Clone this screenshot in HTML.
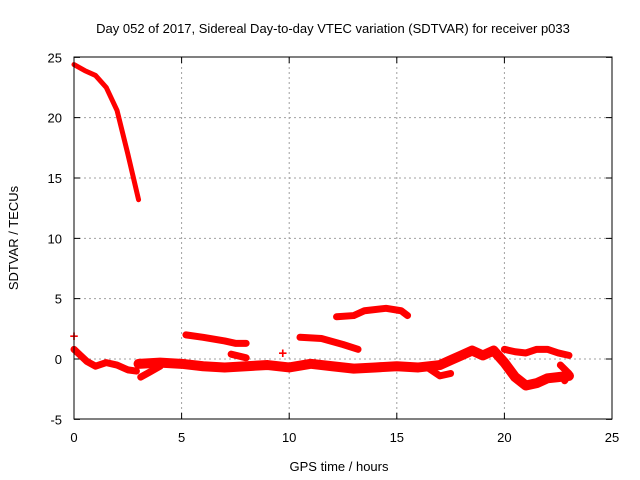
<!DOCTYPE html>
<html><head><meta charset="utf-8"><style>
body{margin:0;background:#fff}
svg{display:block;font-family:"Liberation Sans",sans-serif;font-size:13px}
</style></head><body>
<svg id="chart" width="640" height="480">
<text x="333" y="33" text-anchor="middle">Day 052 of 2017, Sidereal Day-to-day VTEC variation (SDTVAR) for receiver p033</text>
<g id="grid"></g><g id="ticks"></g><g id="series"></g>
<rect x="74" y="57" width="538" height="362" fill="none" stroke="#000"/>
<text x="339" y="471" text-anchor="middle">GPS time / hours</text>
<text transform="translate(18,238) rotate(-90)" text-anchor="middle">SDTVAR / TECUs</text>
</svg>
<script>
const xTicks=[0,5,10,15,20,25];
const yTicks=[-5,0,5,10,15,20,25];
const segTop=[[0,24.4],[0.5,23.9],[1,23.5],[1.5,22.5],[2,20.6],[2.5,17],[3,13.2]];
const segMain=[[0,0.8],[0.3,0.3],[0.6,-0.2],[1,-0.6],[1.5,-0.3],[2,-0.5],[2.5,-0.9],[2.9,-1]];
const segMain2=[[3,-0.4],[4,-0.3],[5,-0.4],[6,-0.6],[7,-0.7],[8,-0.6],[9,-0.5],[10,-0.7],[11,-0.4],[12,-0.6],[13,-0.8],[14,-0.7],[15,-0.6],[16,-0.7],[17,-0.5],[17.5,-0.1],[18,0.3],[18.5,0.7],[19,0.3],[19.5,0.7],[20,-0.3],[20.5,-1.5],[21,-2.2],[21.5,-2],[22,-1.6],[22.5,-1.5],[23,-1.4]];
const segLow=[[3.1,-1.5],[3.5,-1.1],[4,-0.6]];
const segRight=[[20,0.8],[20.5,0.6],[21,0.5],[21.5,0.8],[22,0.8],[22.5,0.5],[23,0.3]];
const segB=[[5.2,2],[6,1.8],[7,1.5],[7.5,1.3],[8,1.3]];
const segC=[[10.5,1.8],[11.5,1.7],[12.5,1.2],[13.2,0.8]];
const segD=[[12.2,3.5],[13,3.6],[13.5,4],[14.5,4.2],[15.2,4],[15.5,3.6]];
const segE=[[7.3,0.4],[8,0.1]];
const segF=[[16.5,-0.8],[17,-1.4],[17.5,-1.2]];
const segG=[[22.6,-0.5],[23,-1.2],[22.8,-1.8]];
const pts=[[0,1.9],[9.7,0.5]];
const allSegs=[segTop,segMain,segMain2,segLow,segRight,segB,segC,segD,segE,segF,segG];
const X=h=>74+h*538/25, Y=v=>359-v*362/30;
const NS="http://www.w3.org/2000/svg";
const grid=document.getElementById('grid'),ticks=document.getElementById('ticks'),ser=document.getElementById('series');
function mk(t,a,p){const e=document.createElementNS(NS,t);for(const k in a)e.setAttribute(k,a[k]);p.appendChild(e);return e;}
xTicks.forEach(t=>{const x=X(t);
 if(t>0&&t<25){const g=mk('line',{x1:x,x2:x,y1:57,y2:419,stroke:'#a0a0a0','stroke-dasharray':'2,3'},grid);
 
 }
 const m=mk('path',{d:`M${x},419v-6M${x},57v6`,stroke:'#000'},ticks);
 
 
 const l=mk('text',{x:x,y:442,'text-anchor':'middle'},ticks);l.textContent=t;
 
 
});
yTicks.forEach(t=>{const y=Y(t);
 if(t>-5&&t<25){const g=mk('line',{x1:74,x2:612,y1:y,y2:y,stroke:'#a0a0a0','stroke-dasharray':'2,3'},grid);
 
 }
 const m=mk('path',{d:`M74,${y}h6M612,${y}h-6`,stroke:'#000'},ticks);
 
 
 const l=mk('text',{x:62,y:y+5,'text-anchor':'end'},ticks);l.textContent=t;
 
 
});
allSegs.forEach((s,i)=>{const p=mk('polyline',{points:s.map(d=>X(d[0])+','+Y(d[1])).join(' '),fill:'none',stroke:'#ff0000','stroke-width':i===0?5:(i===2?10:7),'stroke-linejoin':'round','stroke-linecap':'round'},ser);
 
 
});
pts.forEach(d=>{const t=mk('text',{x:X(d[0]),y:Y(d[1])+5,'text-anchor':'middle',fill:'#ff0000','font-size':'15','font-weight':'bold'},ser);t.textContent='+';
 
 
});
</script>
</body></html>
